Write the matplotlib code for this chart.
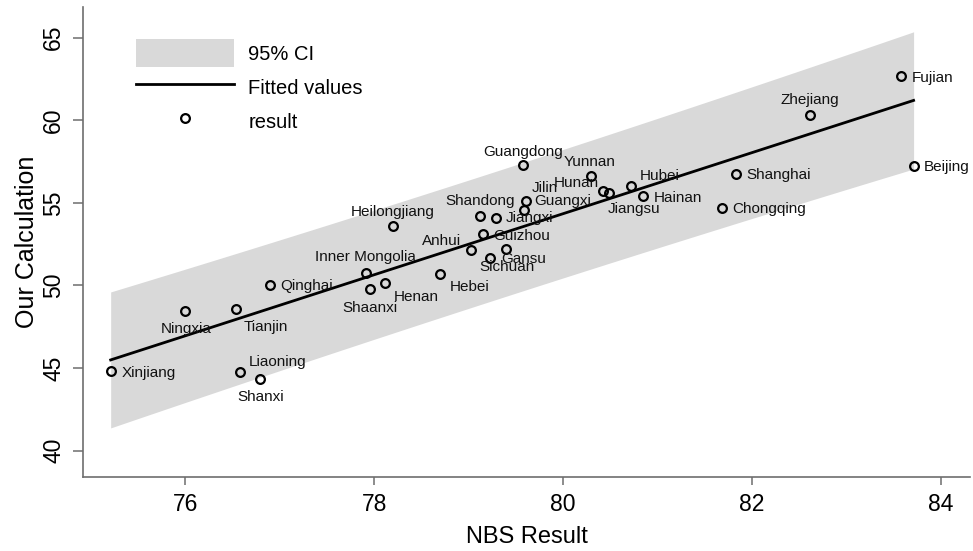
import numpy as np
import matplotlib
matplotlib.use('Agg')
from matplotlib import pyplot as plt
from matplotlib.patches import Patch
from matplotlib.lines import Line2D

plt.rcParams['font.family'] = ['Liberation Sans', 'DejaVu Sans']

provinces = ['Xinjiang', 'Ningxia', 'Tianjin', 'Liaoning', 'Shanxi', 'Qinghai',
             'Inner Mongolia', 'Shaanxi', 'Henan', 'Heilongjiang', 'Hebei', 'Anhui',
             'Shandong', 'Guizhou', 'Sichuan', 'Jiangxi', 'Gansu', 'Guangdong',
             'Guangxi', 'Jilin', 'Yunnan', 'Hunan', 'Jiangsu', 'Hubei', 'Hainan',
             'Chongqing', 'Shanghai', 'Zhejiang', 'Fujian', 'Beijing']
nbs_result = [75.21, 76.00, 76.54, 76.58, 76.79, 76.90,
              77.91, 77.95, 78.11, 78.20, 78.70, 79.02,
              79.12, 79.15, 79.23, 79.29, 79.40, 79.57,
              79.59, 79.61, 80.29, 80.42, 80.49, 80.72, 80.85,
              81.68, 81.83, 82.61, 83.58, 83.71]
our_calc = [44.82, 48.48, 48.60, 44.76, 44.36, 50.01,
            50.77, 49.79, 50.13, 53.58, 50.70, 52.15,
            54.21, 53.10, 51.68, 54.10, 52.21, 57.29,
            54.55, 55.13, 56.65, 55.72, 55.58, 56.04, 55.42,
            54.71, 56.75, 60.34, 62.68, 57.25]

x_ticks = [76, 78, 80, 82, 84]
y_ticks = [40, 45, 50, 55, 60, 65]

# where each name sits next to its marker: alignment, dx, dy (pixels, dy up)
label_pos = {
    'Xinjiang': ('left', 10.7, -2.3), 'Ningxia': ('center', 0.7, -18.3),
    'Tianjin': ('left', 7, -18), 'Liaoning': ('left', 9, 10.3),
    'Shanxi': ('center', 0.4, -18), 'Qinghai': ('left', 10.4, -0.7),
    'Inner Mongolia': ('center', 0, 15.4), 'Shaanxi': ('center', 0, -19.3),
    'Henan': ('left', 9.3, -13.4), 'Heilongjiang': ('center', 0, 14.6),
    'Hebei': ('left', 9, -12.7), 'Anhui': ('right', -9.3, 9.3),
    'Shandong': ('center', 0.4, 15.3), 'Guizhou': ('left', 10, -1.7),
    'Sichuan': ('left', -11, -9.6), 'Jiangxi': ('left', 10, -0.6),
    'Gansu': ('left', -5, -10.3), 'Guangdong': ('center', 0.4, 13.3),
    'Guangxi': ('left', 9.7, 9.3), 'Jilin': ('left', 5.3, 12.7),
    'Yunnan': ('center', -0.7, 14), 'Hunan': ('right', -3.7, 8),
    'Jiangsu': ('left', -1.6, -16), 'Hubei': ('left', 9, 10),
    'Hainan': ('left', 10.6, -1.7), 'Chongqing': ('left', 10, -1.6),
    'Shanghai': ('left', 10.7, -1), 'Zhejiang': ('center', 0.3, 14.7),
    'Fujian': ('left', 10.6, -1.7), 'Beijing': ('left', 10, -1),
}

x = np.array(nbs_result)
y = np.array(our_calc)
n = len(x)

# linear fit with 95% interval for an individual forecast
slope, intercept = np.polyfit(x, y, 1)
resid = y - (intercept + slope * x)
s = np.sqrt(np.sum(resid ** 2) / (n - 2))
sxx = np.sum((x - x.mean()) ** 2)
t_crit = 2.048
xs = np.linspace(x.min(), x.max(), 200)
fit = intercept + slope * xs
half = t_crit * s * np.sqrt(1 + 1 / n + (xs - x.mean()) ** 2 / sxx)

fig = plt.figure(figsize=(9.73, 5.51), dpi=100)
ax = fig.add_axes([0.0856, 0.1338, 0.9113, 0.8535])

band_color = '#d9d9d9'
ax.fill_between(xs, fit - half, fit + half, color=band_color, lw=0, zorder=1)
ax.plot(xs, fit, color='black', lw=2.0, zorder=2)
ax.plot(x, y, 'o', ms=6.3, mfc='none', mec='black', mew=1.6, zorder=3)

for name, xi, yi in zip(provinces, nbs_result, our_calc):
    ha, dx, dy = label_pos[name]
    ax.annotate(name, (xi, yi), xytext=(dx * 0.72, dy * 0.72), textcoords='offset points',
                ha=ha, va='center', fontsize=11, color='#111111', zorder=4)

ax.set_xlim(74.92, 84.307)
ax.set_ylim(38.39, 66.85)
ax.set_xticks(x_ticks)
ax.set_yticks(y_ticks)
ax.set_xticklabels([str(v) for v in x_ticks])
ax.set_yticklabels([str(v) for v in y_ticks], rotation=90, va='center')

for side in ['top', 'right']:
    ax.spines[side].set_visible(False)
for side in ['left', 'bottom']:
    ax.spines[side].set_color('#6e6e6e')
    ax.spines[side].set_linewidth(1.2)

ax.tick_params(axis='x', length=6, width=1.1, color='#6e6e6e', labelsize=16.5, pad=5.5)
ax.tick_params(axis='y', length=7.5, width=1.1, color='#6e6e6e', labelsize=16.5, pad=5.5)

ax.set_xlabel('NBS Result', fontsize=17)
ax.set_ylabel('Our Calculation', fontsize=18)
ax.xaxis.set_label_coords(0.5, -0.104)
ax.yaxis.set_label_coords(-0.05, 0.5)

handles = [Patch(facecolor=band_color, edgecolor='none'),
           Line2D([], [], color='black', lw=2.0),
           Line2D([], [], ls='none', marker='o', ms=6.3, mfc='none', mec='black', mew=1.6)]
ax.legend(handles, ['95% CI', 'Fitted values', 'result'], loc='upper left',
          bbox_to_anchor=(0.0594, 0.932), frameon=False, fontsize=14.5,
          handlelength=4.87, handleheight=1.77, handletextpad=0.7,
          labelspacing=0.31, borderpad=0, borderaxespad=0, numpoints=1)

fig.savefig('out.png', dpi=100)
